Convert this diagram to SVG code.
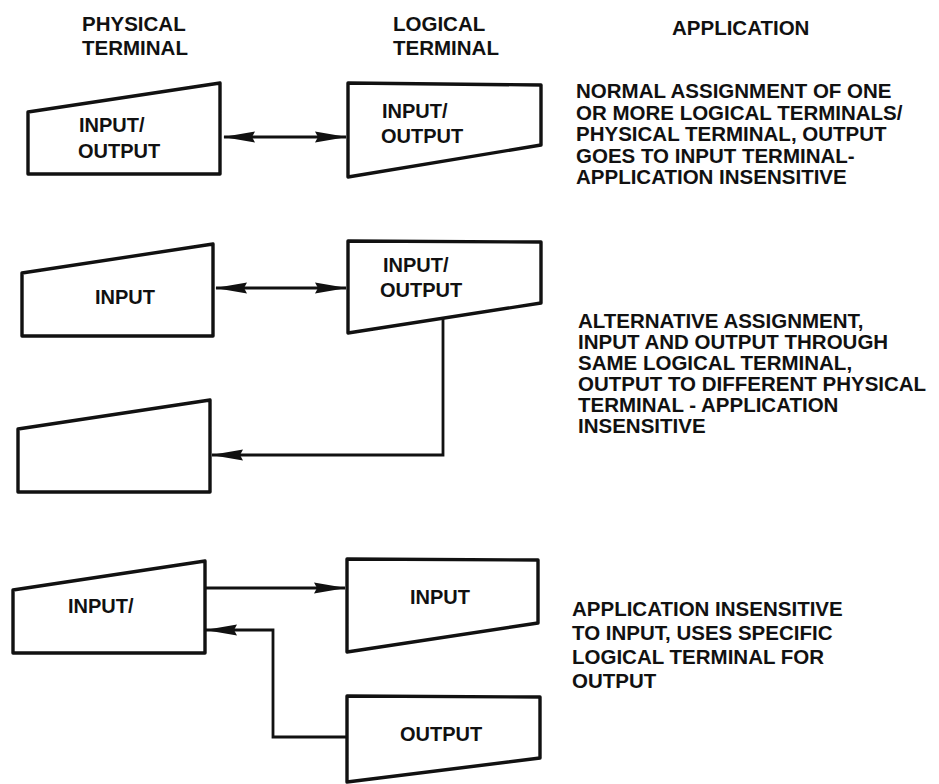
<svg xmlns="http://www.w3.org/2000/svg" width="939" height="784" viewBox="0 0 939 784">
<style>
text{font-family:"Liberation Sans",Arial,sans-serif;font-weight:bold;font-size:20px;fill:#111}
.box{fill:#fff;stroke:#111;stroke-width:3.4;stroke-linejoin:round}
.con{fill:none;stroke:#111;stroke-width:2.8}
.hdr{font-size:20.5px}
.desc{font-size:20.5px}
</style>
<defs>
<marker id="ah" viewBox="0 0 32 14" refX="31" refY="7" markerWidth="32" markerHeight="14" markerUnits="userSpaceOnUse" orient="auto-start-reverse">
<path d="M0,1.5 L32,7 L0,12.5 L3,7 Z" fill="#111"/>
</marker>
</defs>
<rect width="939" height="784" fill="#fff"/>

<g id="headers">
<text class="hdr" x="82" y="31">PHYSICAL</text>
<text class="hdr" x="82" y="55">TERMINAL</text>
<text class="hdr" x="393" y="31">LOGICAL</text>
<text class="hdr" x="393" y="55">TERMINAL</text>
<text class="hdr" x="672" y="35">APPLICATION</text>
</g>

<g id="connectors">
<path class="con" d="M224,137 H346" marker-start="url(#ah)" marker-end="url(#ah)"/>
<path class="con" d="M216,288 H346" marker-start="url(#ah)" marker-end="url(#ah)"/>
<path class="con" d="M443,319 V455 H212" marker-end="url(#ah)"/>
<path class="con" d="M205,588 H345" marker-end="url(#ah)"/>
<path class="con" d="M346,737 H273 V630 H206" marker-end="url(#ah)"/>
</g>

<g id="phys1">
<polygon class="box" points="28,112 220,83 220,174 28,174"/>
<text x="79" y="132">INPUT/</text>
<text x="78" y="158">OUTPUT</text>
</g>
<g id="log1">
<polygon class="box" points="348,83 541,85 541,145 348,177"/>
<text x="382" y="118">INPUT/</text>
<text x="381" y="143">OUTPUT</text>
</g>
<g id="desc1">
<text class="desc" x="576" y="98">NORMAL ASSIGNMENT OF ONE</text>
<text class="desc" x="576" y="119.5">OR MORE LOGICAL TERMINALS/</text>
<text class="desc" x="576" y="141">PHYSICAL TERMINAL, OUTPUT</text>
<text class="desc" x="576" y="162.5">GOES TO INPUT TERMINAL-</text>
<text class="desc" x="576" y="184">APPLICATION INSENSITIVE</text>
</g>

<g id="phys2">
<polygon class="box" points="22,273 213,244 213,336 22,336"/>
<text x="95" y="304">INPUT</text>
</g>
<g id="log2">
<polygon class="box" points="348,241 541,242 541,303 348,333"/>
<text x="383" y="272">INPUT/</text>
<text x="380" y="297">OUTPUT</text>
</g>
<g id="phys3">
<polygon class="box" points="18,429 210,400 210,492 18,492"/>
</g>
<g id="desc2">
<text class="desc" x="578" y="328">ALTERNATIVE ASSIGNMENT,</text>
<text class="desc" x="578" y="349">INPUT AND OUTPUT THROUGH</text>
<text class="desc" x="578" y="370">SAME LOGICAL TERMINAL,</text>
<text class="desc" x="578" y="391">OUTPUT TO DIFFERENT PHYSICAL</text>
<text class="desc" x="578" y="412">TERMINAL - APPLICATION</text>
<text class="desc" x="578" y="433">INSENSITIVE</text>
</g>

<g id="phys4">
<polygon class="box" points="13,590 205,561 205,653 13,653"/>
<text x="68" y="613">INPUT/</text>
</g>
<g id="logIn">
<polygon class="box" points="347,559 538,560 538,623 347,652"/>
<text x="410" y="604">INPUT</text>
</g>
<g id="logOut">
<polygon class="box" points="347,696 540,697 540,758 347,782"/>
<text x="400" y="741">OUTPUT</text>
</g>
<g id="desc3">
<text class="desc" x="572" y="616">APPLICATION INSENSITIVE</text>
<text class="desc" x="572" y="640">TO INPUT, USES SPECIFIC</text>
<text class="desc" x="572" y="664">LOGICAL TERMINAL FOR</text>
<text class="desc" x="572" y="688">OUTPUT</text>
</g>
</svg>
